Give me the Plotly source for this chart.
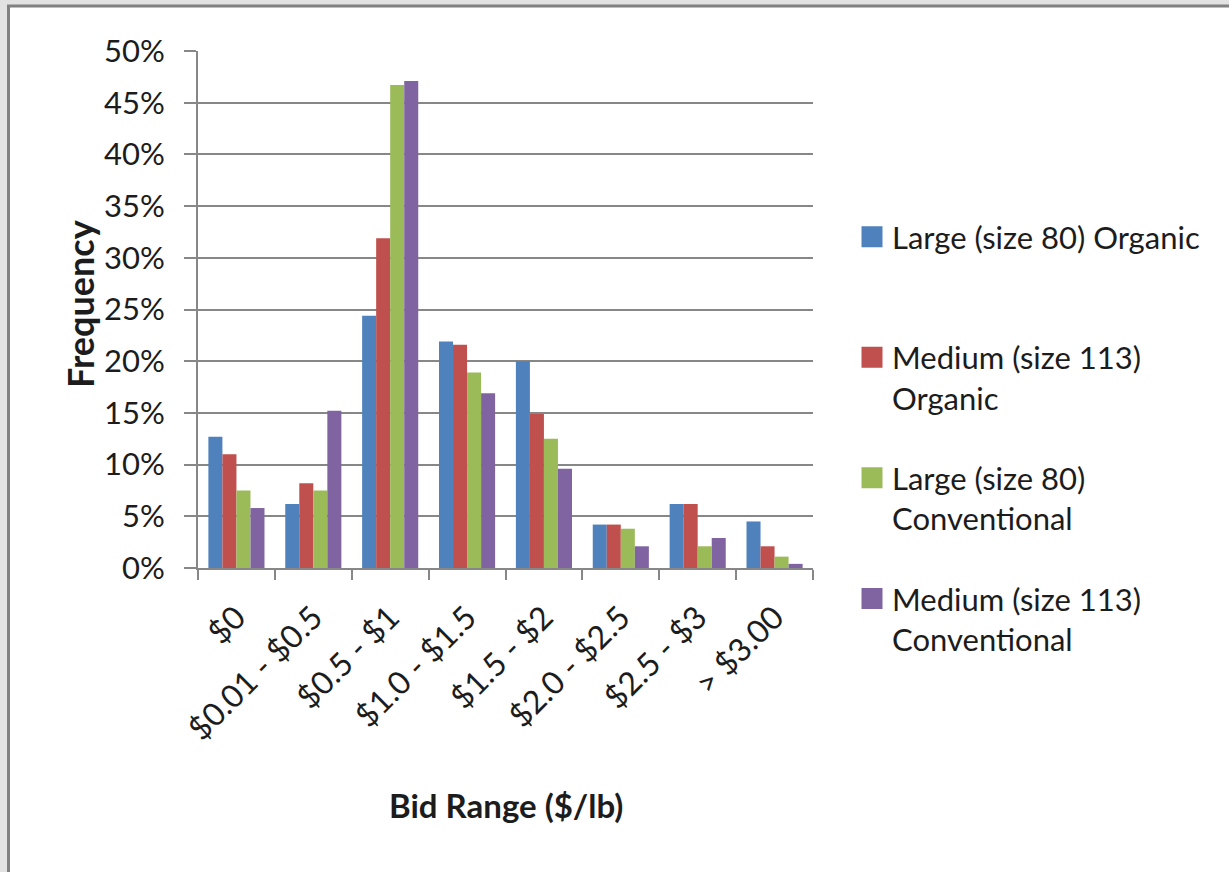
import plotly.graph_objects as go

# Bid ranges ($/lb) and share of bids falling in each range
bid_ranges = ["$0", "$0.01 - $0.5", "$0.5 - $1", "$1.0 - $1.5",
              "$1.5 - $2", "$2.0 - $2.5", "$2.5 - $3", "> $3.00"]

large_organic = [0.127, 0.062, 0.244, 0.219, 0.200, 0.042, 0.062, 0.045]
medium_organic = [0.110, 0.082, 0.319, 0.216, 0.149, 0.042, 0.062, 0.021]
large_conventional = [0.075, 0.075, 0.467, 0.189, 0.125, 0.038, 0.021, 0.011]
medium_conventional = [0.058, 0.152, 0.471, 0.169, 0.096, 0.021, 0.029, 0.004]

series_names = [
    "Large (size 80) Organic<br> ",
    "Medium (size 113)<br>Organic",
    "Large (size 80)<br>Conventional",
    "Medium (size 113)<br>Conventional",
]
series_values = [large_organic, medium_organic, large_conventional, medium_conventional]
series_colors = ["#4F81BD", "#C0504D", "#9BBB59", "#8064A2"]

FONT = "Lato"
TEXT = "#1c1c1c"
GRID = "#878787"

W, H = 1229, 872
L, R, T, B = 198, 416, 51, 304
PW, PH = W - L - R, H - T - B


def px_x(p):
    return (p - L) / PW


def px_y(p):
    return (H - B - p) / PH


fig = go.Figure()
for name, vals, col, grp in zip(series_names, series_values, series_colors, "abcd"):
    fig.add_trace(go.Bar(
        x=bid_ranges, y=vals, name=name, legendgroup=grp, showlegend=False,
        marker=dict(color=col, line=dict(width=0)),
    ))
    # legend key: a larger square swatch for the series
    fig.add_trace(go.Scatter(
        x=[None], y=[None], mode="markers", name=name, legendgroup=grp,
        marker=dict(symbol="square", size=16, color=col,
                    line=dict(color=col, width=5)),
    ))

fig.update_layout(
    width=W, height=H,
    margin=dict(l=L, r=R, t=T, b=B, pad=0),
    paper_bgcolor="#e2e2e2",
    plot_bgcolor="rgba(0,0,0,0)",
    barmode="group", bargap=0.27, bargroupgap=0,
    font=dict(family=FONT, color=TEXT, size=31),
    showlegend=True,
    legend=dict(
        x=px_x(852), xanchor="left",
        y=px_y(210), yanchor="top",
        valign="top",
        itemsizing="trace",
        tracegroupgap=37,
        font=dict(family=FONT, size=31, color=TEXT),
        bgcolor="rgba(0,0,0,0)",
    ),
    xaxis=dict(
        type="category",
        showgrid=False,
        showline=True, linecolor=GRID, linewidth=2,
        ticks="outside", tickson="boundaries", ticklen=10,
        tickcolor=GRID, tickwidth=2,
        tickangle=-45,
        ticklabelstandoff=16,
        tickfont=dict(family=FONT, size=32, color=TEXT),
    ),
    yaxis=dict(
        range=[0, 0.5], dtick=0.05, tickformat=".0%",
        showgrid=True, gridcolor=GRID, gridwidth=2,
        showline=True, linecolor=GRID, linewidth=2,
        ticks="outside", ticklen=12, tickcolor=GRID, tickwidth=2,
        ticklabelstandoff=13,
        tickfont=dict(family=FONT, size=31, color=TEXT),
        zeroline=False,
    ),
    shapes=[dict(
        type="rect", xref="paper", yref="paper", layer="below",
        x0=px_x(8.5), x1=px_x(1260), y0=px_y(900), y1=px_y(6),
        line=dict(color="#808080", width=3), fillcolor="white",
    )],
    annotations=[
        dict(text="<b>Frequency</b>", xref="paper", yref="paper",
             x=px_x(80), y=px_y(304), textangle=-90, showarrow=False,
             xanchor="center", yanchor="middle",
             font=dict(family=FONT, size=36, color=TEXT)),
        dict(text="<b>Bid Range ($/lb)</b>", xref="paper", yref="paper",
             x=px_x(506), y=px_y(805), showarrow=False,
             xanchor="center", yanchor="middle",
             font=dict(family=FONT, size=33, color=TEXT)),
    ],
)

fig.write_html("out.html")
